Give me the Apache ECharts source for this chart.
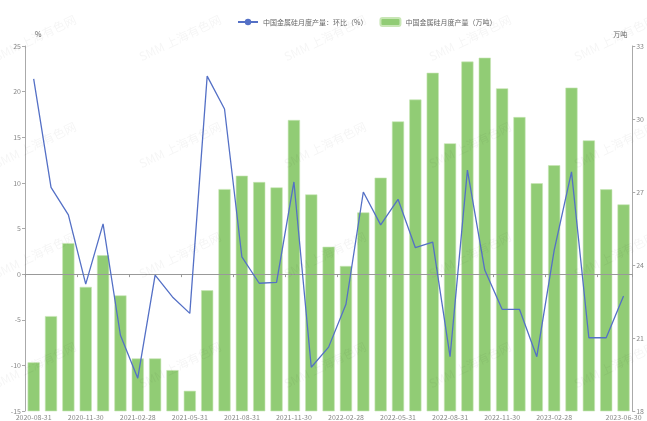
<!DOCTYPE html>
<html>
<head>
<meta charset="utf-8">
<script src="https://cdn.jsdelivr.net/npm/echarts@6/dist/echarts.min.js"></script>
<style>
  html, body { margin: 0; padding: 0; background: #fff; }
  #chart { width: 647px; height: 421px; }
</style>
</head>
<body>
<div id="chart"></div>
<script>
// months, end-of-month dates
var categories = [
  '2020-08-31', '2020-09-30', '2020-10-31', '2020-11-30', '2020-12-31',
  '2021-01-31', '2021-02-28', '2021-03-31', '2021-04-30', '2021-05-31',
  '2021-06-30', '2021-07-31', '2021-08-31', '2021-09-30', '2021-10-31',
  '2021-11-30', '2021-12-31', '2022-01-31', '2022-02-28', '2022-03-31',
  '2022-04-30', '2022-05-31', '2022-06-30', '2022-07-31', '2022-08-31',
  '2022-09-30', '2022-10-31', '2022-11-30', '2022-12-31', '2023-01-31',
  '2023-02-28', '2023-03-31', '2023-04-30', '2023-05-31', '2023-06-30'
];

// 产量 (万吨)
var output = [
  20.0, 21.9, 24.9, 23.1, 24.4, 22.75, 20.16, 20.16, 19.68, 18.83,
  22.96, 27.12, 27.67, 27.41, 27.19, 29.96, 26.9, 24.75, 23.96, 26.16,
  27.59, 29.9, 30.8, 31.9, 29.0, 32.36, 32.52, 31.26, 30.08, 27.36,
  28.1, 31.29, 29.12, 27.11, 26.49
];

// 环比 (%)
var mom = [
  21.4, 9.5, 6.5, -1.1, 5.5, -6.7, -11.4, -0.1, -2.5, -4.3,
  21.7, 18.1, 1.9, -1.0, -0.9, 10.1, -10.2, -8.0, -3.3, 9.0,
  5.4, 8.2, 2.9, 3.5, -9.05, 11.4, 0.45, -3.86, -3.86, -9.05,
  2.6, 11.2, -6.97, -6.97, -2.4
];

var leftTicks = { min: -15, max: 25, step: 5 };
var rightTicks = { min: 18, max: 33, step: 3 };

var lineName = '中国金属硅月度产量：环比（%）';
var barName = '中国金属硅月度产量（万吨）';

function showLabel(i) {
  return (i % 3 === 0 && i <= 30) || i === categories.length - 1;
}

// faint watermark tiles
var marks = [];
[35, 180, 325, 470, 615].forEach(function (x) {
  [38, 145, 255, 365].forEach(function (y) {
    marks.push({
      type: 'text', x: x, y: y, rotation: 0.45, silent: true, z: 100,
      style: {
        text: 'SMM 上海有色网', fill: 'rgba(0,0,0,0.045)',
        font: '12px "Noto Sans CJK SC", sans-serif',
        align: 'center', verticalAlign: 'middle'
      }
    });
  });
});

var chart = echarts.init(document.getElementById('chart'), null, { renderer: 'canvas' });
var axisGray = '#aaa';
var labelGray = '#888';
var font = '"Noto Sans CJK SC", "Noto Sans", sans-serif';

chart.setOption({
  animation: false,
  textStyle: { fontFamily: font },
  legend: {
    top: 12,
    left: 232,
    itemGap: 12,
    itemWidth: 20,
    itemHeight: 8,
    textStyle: { color: '#666', fontSize: 7 },
    data: [lineName, barName]
  },
  grid: { left: 25, right: 13, top: 46, bottom: 10, containLabel: false },
  graphic: marks,
  xAxis: [
    {
      type: 'category',
      data: categories,
      z: 2,
      axisLine: { onZero: true, lineStyle: { color: '#999' } },
      axisTick: { show: true, length: 3, interval: function (i) { return i % 3 === 0; }, lineStyle: { color: '#999' } },
      axisLabel: { show: false }
    },
    {
      type: 'category',
      data: categories,
      position: 'bottom',
      axisLine: { show: false, onZero: false },
      axisTick: { show: false },
      axisLabel: {
        color: labelGray, fontSize: 7, margin: 3,
        interval: function (i) { return showLabel(i); }
      }
    }
  ],
  yAxis: [
    {
      type: 'value',
      name: '%',
      nameGap: 8,
      nameTextStyle: { color: '#666', fontSize: 7, align: 'left', padding: [0, 0, 0, 10] },
      min: leftTicks.min, max: leftTicks.max, interval: leftTicks.step,
      axisLine: { show: true, lineStyle: { color: axisGray } },
      axisTick: { show: true, length: 3, lineStyle: { color: axisGray } },
      axisLabel: { color: labelGray, fontSize: 7, margin: 4 },
      splitLine: { show: false }
    },
    {
      type: 'value',
      name: '万吨',
      nameGap: 8,
      nameTextStyle: { color: '#666', fontSize: 7, align: 'right', padding: [0, 5, 0, 0] },
      min: rightTicks.min, max: rightTicks.max, interval: rightTicks.step,
      axisLine: { show: true, lineStyle: { color: axisGray } },
      axisTick: { show: true, length: 3, lineStyle: { color: axisGray } },
      axisLabel: { color: labelGray, fontSize: 7, margin: 4 },
      splitLine: { show: false }
    }
  ],
  series: [
    {
      name: lineName,
      type: 'line',
      xAxisIndex: 0,
      yAxisIndex: 0,
      data: mom,
      z: 3,
      symbol: 'circle',
      symbolSize: 6,
      showSymbol: false,
      itemStyle: { color: '#5470c6' },
      lineStyle: { color: '#5470c6', width: 1.3 }
    },
    {
      name: barName,
      type: 'bar',
      xAxisIndex: 0,
      yAxisIndex: 1,
      data: output,
      z: 1,
      barCategoryGap: '30%',
      itemStyle: { color: '#91cc75', borderColor: '#c8e6b5', borderWidth: 0.6 }
    }
  ]
});
window.addEventListener('resize', function () { chart.resize(); });
</script>
</body>
</html>
